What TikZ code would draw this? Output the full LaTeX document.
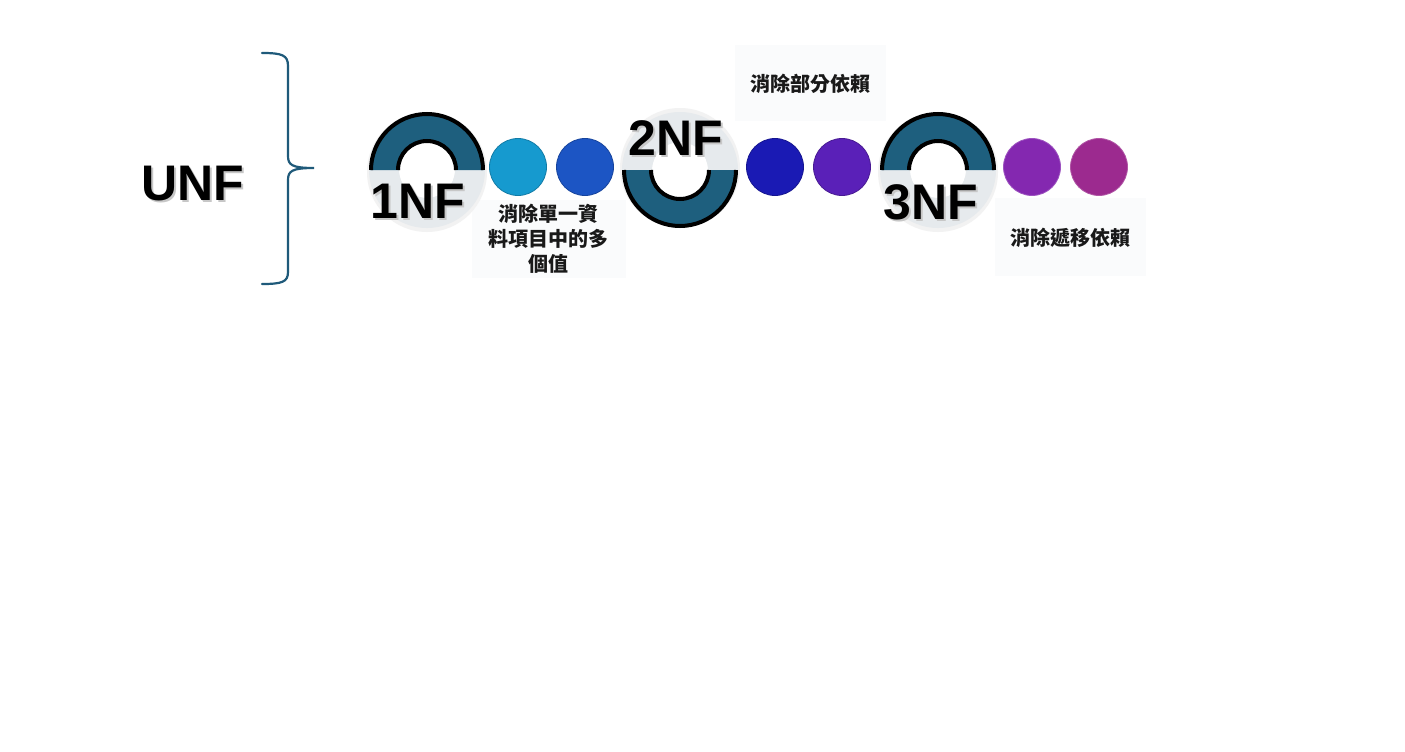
\documentclass[tikz,border=0pt]{standalone}
\usepackage{fontspec}
\setmainfont{Liberation Sans}
\newfontfamily\cjk{Noto Sans CJK TC}
\usetikzlibrary{calc}
\definecolor{ringteal}{HTML}{1E5F7E}
\definecolor{ringgray}{HTML}{E6EAED}
\definecolor{bracecol}{HTML}{1F5A7A}
\definecolor{labelbg}{HTML}{FAFBFC}
\definecolor{cA}{HTML}{169ACF}
\definecolor{cB}{HTML}{1C55C4}
\definecolor{cC}{HTML}{1A1AB4}
\definecolor{cD}{HTML}{5A20B8}
\definecolor{cE}{HTML}{8428B0}
\definecolor{cF}{HTML}{9C2A8F}
\tikzset{
  bigtext/.style={font=\fontsize{50}{50}\selectfont\bfseries, inner sep=0pt, text=black},
  bigshadow/.style={font=\fontsize{50}{50}\selectfont\bfseries, inner sep=0pt, text=black!22},
  cjklabel/.style={font=\cjk\bfseries\fontsize{20}{25}\selectfont, align=center, inner sep=0pt, text=black!90},
  labelbox/.style={fill=labelbg, draw=none},
  dot/.style={circle, minimum size=57pt, inner sep=0pt, line width=0.8pt},
}
% ring with teal half on top (#1=1) or bottom (#1=-1)
\newcommand{\nfring}[3]{%
  \begin{scope}[shift={(#2,#3)}, yscale=#1]
    \fill[black!5] (0,2) circle[radius=60];
    \fill[white] (0,0) circle[radius=28];
    \fill[ringgray] (0:58) arc[start angle=0,end angle=180,radius=58]
       -- (180:28) arc[start angle=180,end angle=0,radius=28] -- cycle;
    \fill[ringteal] (180:57) arc[start angle=180,end angle=360,radius=57]
       -- (0:29) arc[start angle=360,end angle=180,radius=29] -- cycle;
    \draw[black, line width=4pt] (180:56) arc[start angle=180,end angle=360,radius=56];
    \draw[black, line width=4pt] (180:29) arc[start angle=180,end angle=360,radius=29];
  \end{scope}}
\begin{document}
\begin{tikzpicture}[x=1pt,y=-1pt]
\useasboundingbox (0,0) rectangle (1405,752);
\fill[white] (0,0) rectangle (1405,752);

% label backgrounds
\fill[labelbox] (472,200) rectangle (626,278);
\fill[labelbox] (735,45) rectangle (886,121);
\fill[labelbox] (995,198) rectangle (1146,276);

% brace
\draw[bracecol, line width=2.2pt, line cap=round]
  (262,53) .. controls (282,53) and (288,55) .. (288,66) -- (288,156)
  .. controls (288,165) and (292,168) .. (314,168)
  .. controls (292,168) and (288,171) .. (288,180) -- (288,272)
  .. controls (288,282) and (282,284) .. (262,284);

% UNF
\node[bigshadow] at (195,186) {UNF};
\node[bigtext] (unf) at (193,184) {UNF};

% rings
\nfring{1}{427}{170}
\nfring{-1}{680}{170}
\nfring{1}{938}{170}

% dots
\node[dot, fill=cA, draw=cA!80!black] (d1) at (518,167) {};
\node[dot, fill=cB, draw=cB!80!black] (d2) at (585,167) {};
\node[dot, fill=cC, draw=cC!80!black] (d3) at (775,167) {};
\node[dot, fill=cD, draw=cD!80!black] (d4) at (842,167) {};
\node[dot, fill=cE, draw=cE!80!white] (d5) at (1032,167) {};
\node[dot, fill=cF, draw=cF!80!white] (d6) at (1099,167) {};

% NF labels
\node[bigshadow] at (420,203) {1NF};
\node[bigtext] (n1) at (418,201) {1NF};
\node[bigshadow] at (678,140) {2NF};
\node[bigtext] (n2) at (676,138) {2NF};
\node[bigshadow] at (933,204) {3NF};
\node[bigtext] (n3) at (931,202) {3NF};

% CJK labels
\node[cjklabel] (l1) at (548,239) {消除單一資\\料項目中的多\\個值};
\node[cjklabel] (l2) at (810,84) {消除部分依賴};
\node[cjklabel] (l3) at (1070,238) {消除遞移依賴};
\end{tikzpicture}
\end{document}
